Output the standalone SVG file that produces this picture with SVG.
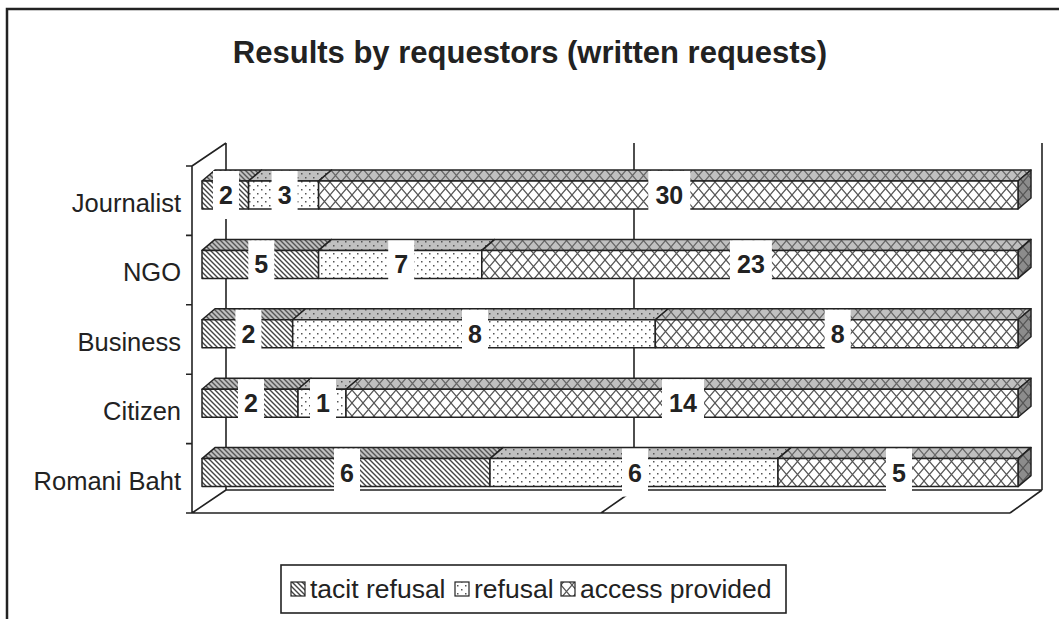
<svg xmlns="http://www.w3.org/2000/svg" width="1059" height="619" viewBox="0 0 1059 619">
<defs>
<pattern id="pT" patternUnits="userSpaceOnUse" width="5" height="5"><rect width="5" height="5" fill="#fff"/><path d="M-1,-1L6,6M-1,4L1,6M4,-1L6,1" stroke="#444" stroke-width="1.4"/></pattern>
<pattern id="pTg" patternUnits="userSpaceOnUse" width="5" height="5"><rect width="5" height="5" fill="#c0c0c0"/><path d="M-1,-1L6,6M-1,4L1,6M4,-1L6,1" stroke="#555" stroke-width="1.4"/></pattern>
<pattern id="pR" patternUnits="userSpaceOnUse" width="8" height="8"><rect width="8" height="8" fill="#fff"/><rect x="1" y="1" width="1.5" height="1.5" fill="#555"/><rect x="5" y="5" width="1.5" height="1.5" fill="#555"/></pattern>
<pattern id="pRg" patternUnits="userSpaceOnUse" width="8" height="8"><rect width="8" height="8" fill="#c0c0c0"/><rect x="1" y="1" width="1.5" height="1.5" fill="#555"/><rect x="5" y="5" width="1.5" height="1.5" fill="#555"/></pattern>
<pattern id="pA" patternUnits="userSpaceOnUse" width="11" height="13"><rect width="11" height="13" fill="#fff"/><path d="M0,0L11,13M11,0L0,13" stroke="#555" stroke-width="1.2"/></pattern>
<pattern id="pAg" patternUnits="userSpaceOnUse" width="11" height="13"><rect width="11" height="13" fill="#c0c0c0"/><path d="M0,0L11,13M11,0L0,13" stroke="#666" stroke-width="1.2"/></pattern>
<pattern id="pAs" patternUnits="userSpaceOnUse" width="11" height="13"><rect width="11" height="13" fill="#8c8c8c"/><path d="M0,0L11,13M11,0L0,13" stroke="#555" stroke-width="1.2"/></pattern>
</defs>
<style>
.ln{stroke:#222;stroke-width:1.6;fill:none}
.ed{stroke:#222;stroke-width:1.5;stroke-linejoin:round}
.lb{fill:#fff}
.num{font-family:"Liberation Sans",Arial,sans-serif;font-weight:bold;font-size:25px;fill:#222;text-anchor:middle}
.cat{font-family:"Liberation Sans",Arial,sans-serif;font-size:25.5px;fill:#222;text-anchor:end}
.ttl{font-family:"Liberation Sans",Arial,sans-serif;font-weight:bold;font-size:31px;fill:#222;text-anchor:middle}
.leg{font-family:"Liberation Sans",Arial,sans-serif;font-size:26.5px;fill:#222}
</style>
<rect width="1059" height="619" fill="#fff"/>
<path d="M7,619V9H1059" stroke="#222" stroke-width="2.5" fill="none"/>
<text class="ttl" x="530" y="63">Results by requestors (written requests)</text>

<g id="axes">
<path class="ln" d="M226,143V490M634,143V490M1042,143V490M226,490H1042M192,513H1010M192,513L226,490M601,513L634,490M1010,513L1042,490M192,166L226,143M192,166V513"/>
<path class="ln" d="M186,166H192M186,235.4H192M186,304.8H192M186,374.2H192M186,443.6H192M186,513H192"/>
</g>

<g id="bar-journalist">
<path class="ed" fill="url(#pTg)" d="M202,181L215,170H261.6L248.6,181Z"/>
<path class="ed" fill="url(#pRg)" d="M248.6,181L261.6,170H331.6L318.6,181Z"/>
<path class="ed" fill="url(#pAg)" d="M318.6,181L331.6,170H1031L1018,181Z"/>
<path class="ed" fill="url(#pAs)" d="M1018,181L1031,170V198L1018,209Z"/>
<rect class="ed" fill="url(#pT)" x="202" y="181" width="46.6" height="28"/>
<rect class="ed" fill="url(#pR)" x="248.6" y="181" width="70" height="28"/>
<rect class="ed" fill="url(#pA)" x="318.6" y="181" width="699.4" height="28"/>
</g>
<g id="bar-ngo">
<path class="ed" fill="url(#pTg)" d="M202,250.4L215,239.4H331.6L318.6,250.4Z"/>
<path class="ed" fill="url(#pRg)" d="M318.6,250.4L331.6,239.4H494.8L481.8,250.4Z"/>
<path class="ed" fill="url(#pAg)" d="M481.8,250.4L494.8,239.4H1031L1018,250.4Z"/>
<path class="ed" fill="url(#pAs)" d="M1018,250.4L1031,239.4V267.4L1018,278.4Z"/>
<rect class="ed" fill="url(#pT)" x="202" y="250.4" width="116.6" height="28"/>
<rect class="ed" fill="url(#pR)" x="318.6" y="250.4" width="163.2" height="28"/>
<rect class="ed" fill="url(#pA)" x="481.8" y="250.4" width="536.2" height="28"/>
</g>
<g id="bar-business">
<path class="ed" fill="url(#pTg)" d="M202,319.8L215,308.8H305.7L292.7,319.8Z"/>
<path class="ed" fill="url(#pRg)" d="M292.7,319.8L305.7,308.8H668.3L655.3,319.8Z"/>
<path class="ed" fill="url(#pAg)" d="M655.3,319.8L668.3,308.8H1031L1018,319.8Z"/>
<path class="ed" fill="url(#pAs)" d="M1018,319.8L1031,308.8V336.8L1018,347.8Z"/>
<rect class="ed" fill="url(#pT)" x="202" y="319.8" width="90.7" height="28"/>
<rect class="ed" fill="url(#pR)" x="292.7" y="319.8" width="362.6" height="28"/>
<rect class="ed" fill="url(#pA)" x="655.3" y="319.8" width="362.7" height="28"/>
</g>
<g id="bar-citizen">
<path class="ed" fill="url(#pTg)" d="M202,389.2L215,378.2H311L298,389.2Z"/>
<path class="ed" fill="url(#pRg)" d="M298,389.2L311,378.2H359L346,389.2Z"/>
<path class="ed" fill="url(#pAg)" d="M346,389.2L359,378.2H1031L1018,389.2Z"/>
<path class="ed" fill="url(#pAs)" d="M1018,389.2L1031,378.2V406.2L1018,417.2Z"/>
<rect class="ed" fill="url(#pT)" x="202" y="389.2" width="96" height="28"/>
<rect class="ed" fill="url(#pR)" x="298" y="389.2" width="48" height="28"/>
<rect class="ed" fill="url(#pA)" x="346" y="389.2" width="672" height="28"/>
</g>
<g id="bar-romani">
<path class="ed" fill="url(#pTg)" d="M202,458.6L215,447.6H503L490,458.6Z"/>
<path class="ed" fill="url(#pRg)" d="M490,458.6L503,447.6H791L778,458.6Z"/>
<path class="ed" fill="url(#pAg)" d="M778,458.6L791,447.6H1031L1018,458.6Z"/>
<path class="ed" fill="url(#pAs)" d="M1018,458.6L1031,447.6V475.6L1018,486.6Z"/>
<rect class="ed" fill="url(#pT)" x="202" y="458.6" width="288" height="28"/>
<rect class="ed" fill="url(#pR)" x="490" y="458.6" width="288" height="28"/>
<rect class="ed" fill="url(#pA)" x="778" y="458.6" width="240" height="28"/>
</g>

<g id="labels">
<rect class="lb" x="213" y="171" width="26" height="48"/><text class="num" x="226" y="204">2</text>
<rect class="lb" x="271.6" y="171" width="26" height="48"/><text class="num" x="284.6" y="204">3</text>
<rect class="lb" x="648.3" y="171" width="42" height="48"/><text class="num" x="669.3" y="204">30</text>
<rect class="lb" x="248.3" y="240.4" width="26" height="48"/><text class="num" x="261.3" y="273.4">5</text>
<rect class="lb" x="388.2" y="240.4" width="26" height="48"/><text class="num" x="401.2" y="273.4">7</text>
<rect class="lb" x="729.9" y="240.4" width="42" height="48"/><text class="num" x="750.9" y="273.4">23</text>
<rect class="lb" x="235.4" y="309.8" width="26" height="48"/><text class="num" x="248.4" y="342.8">2</text>
<rect class="lb" x="462" y="309.8" width="26" height="48"/><text class="num" x="475" y="342.8">8</text>
<rect class="lb" x="824.7" y="309.8" width="26" height="48"/><text class="num" x="837.7" y="342.8">8</text>
<rect class="lb" x="238" y="379.2" width="26" height="48"/><text class="num" x="251" y="412.2">2</text>
<rect class="lb" x="310" y="379.2" width="26" height="48"/><text class="num" x="323" y="412.2">1</text>
<rect class="lb" x="662" y="379.2" width="42" height="48"/><text class="num" x="683" y="412.2">14</text>
<rect class="lb" x="334" y="448.6" width="26" height="48"/><text class="num" x="347" y="481.6">6</text>
<rect class="lb" x="622" y="448.6" width="26" height="48"/><text class="num" x="635" y="481.6">6</text>
<rect class="lb" x="886" y="448.6" width="26" height="48"/><text class="num" x="899" y="481.6">5</text>
</g>

<g id="categories">
<text class="cat" x="181" y="212">Journalist</text>
<text class="cat" x="181" y="281.4">NGO</text>
<text class="cat" x="181" y="350.8">Business</text>
<text class="cat" x="181" y="420.2">Citizen</text>
<text class="cat" x="181" y="489.6">Romani Baht</text>
</g>

<g id="legend">
<rect x="281" y="565" width="505" height="48" fill="#fff" stroke="#222" stroke-width="1.6"/>
<rect x="291" y="582" width="14" height="14" fill="url(#pT)" stroke="#222" stroke-width="1.2"/>
<text class="leg" x="310" y="598">tacit refusal</text>
<rect x="455" y="582" width="14" height="14" fill="url(#pR)" stroke="#222" stroke-width="1.2"/>
<text class="leg" x="474" y="598">refusal</text>
<rect x="561" y="582" width="14" height="14" fill="url(#pA)" stroke="#222" stroke-width="1.2"/>
<text class="leg" x="580" y="598">access provided</text>
</g>
</svg>
